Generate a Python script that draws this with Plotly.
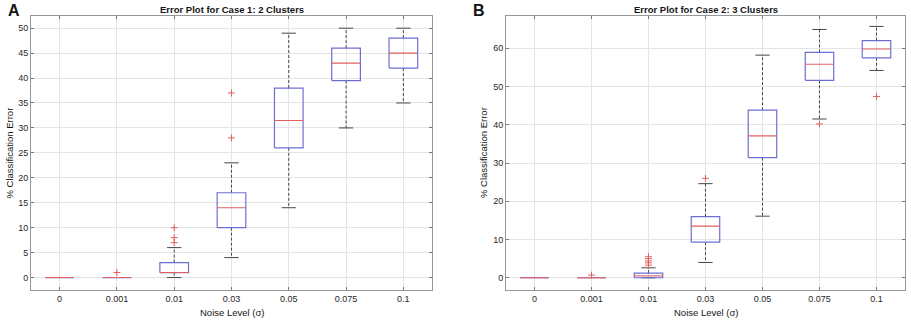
import plotly.graph_objects as go

categories = ["0", "0.001", "0.01", "0.03", "0.05", "0.075", "0.1"]

# Panel A: Case 1, 2 clusters
a_q1 = [0, 0, 1, 10, 26, 39.5, 42]
a_med = [0, 0, 1, 14, 31.5, 43, 45]
a_q3 = [0, 0, 3, 17, 38, 46, 48]
a_lo = [0, 0, 0, 4, 14, 30, 35]
a_hi = [0, 0, 6, 23, 49, 50, 50]
a_out = [[], [1], [7, 8, 10], [28, 37], [], [], []]

# Panel B: Case 2, 3 clusters
b_q1 = [0, 0, 0, 9.3, 31.4, 51.6, 57.5]
b_med = [0, 0, 0.5, 13.5, 37.1, 55.8, 59.8]
b_q3 = [0, 0, 1.2, 16.0, 43.8, 58.9, 62.0]
b_lo = [0, 0, 0, 4.0, 16.1, 41.5, 54.2]
b_hi = [0, 0, 2.6, 24.6, 58.2, 64.9, 65.7]
b_out = [[], [0.7], [3.3, 3.9, 4.4, 5.0, 5.5], [26.0], [], [40.2], [47.4]]

BOX_COLOR = "rgb(110,110,210)"
MED_COLOR = "rgb(225,95,95)"
WHISK_COLOR = "rgb(70,70,70)"
FONT = "Liberation Sans, Arial, sans-serif"

fig = go.Figure()


def add_panel(q1, med, q3, lo, hi, out, xa, ya):
    hw, cw = 0.25, 0.125
    wx, wy, cx, cy, bx, by, mx, my, ox, oy = ([] for _ in range(10))
    for i in range(len(categories)):
        if hi[i] > q3[i]:
            wx += [i, i, None]; wy += [q3[i], hi[i], None]
        if lo[i] < q1[i]:
            wx += [i, i, None]; wy += [q1[i], lo[i], None]
        if hi[i] > q3[i] or lo[i] < q1[i]:
            cx += [i - cw, i + cw, None, i - cw, i + cw, None]
            cy += [hi[i], hi[i], None, lo[i], lo[i], None]
        bx += [i - hw, i + hw, i + hw, i - hw, i - hw, None]
        by += [q1[i], q1[i], q3[i], q3[i], q1[i], None]
        mx += [i - hw, i + hw, None]; my += [med[i], med[i], None]
        for v in out[i]:
            ox.append(i); oy.append(v)
    common = dict(xaxis=xa, yaxis=ya, showlegend=False, hoverinfo="skip")
    fig.add_trace(go.Scatter(x=wx, y=wy, mode="lines",
                             line=dict(color=WHISK_COLOR, width=1, dash="3px,2px"), **common))
    fig.add_trace(go.Scatter(x=cx, y=cy, mode="lines",
                             line=dict(color=WHISK_COLOR, width=1), **common))
    fig.add_trace(go.Scatter(x=bx, y=by, mode="lines",
                             line=dict(color=BOX_COLOR, width=1.2), **common))
    fig.add_trace(go.Scatter(x=mx, y=my, mode="lines",
                             line=dict(color=MED_COLOR, width=1.1), **common))
    fig.add_trace(go.Scatter(x=ox, y=oy, mode="markers",
                             marker=dict(symbol="cross-thin", size=5,
                                         line=dict(color=MED_COLOR, width=1)), **common))


add_panel(a_q1, a_med, a_q3, a_lo, a_hi, a_out, "x", "y")
add_panel(b_q1, b_med, b_q3, b_lo, b_hi, b_out, "x2", "y2")

xax = dict(range=[-0.5, 6.5], tickmode="array", tickvals=list(range(len(categories))),
           ticktext=categories, showgrid=True, gridcolor="rgb(228,228,228)", gridwidth=1,
           zeroline=False, showline=True, linecolor="rgb(150,150,150)", linewidth=1,
           mirror="allticks", ticks="inside", ticklen=3, tickcolor="rgb(120,120,120)",
           tickfont=dict(size=9, color="rgb(40,40,40)", family=FONT))
yax = dict(showgrid=True, gridcolor="rgb(228,228,228)", gridwidth=1, zeroline=False,
           showline=True, linecolor="rgb(150,150,150)", linewidth=1, mirror="allticks",
           ticks="inside", ticklen=3, tickcolor="rgb(120,120,120)",
           tickfont=dict(size=9, color="rgb(40,40,40)", family=FONT))

fig.update_layout(
    width=911, height=324, margin=dict(l=0, r=0, t=0, b=0),
    paper_bgcolor="white", plot_bgcolor="white",
    font=dict(family=FONT, color="rgb(30,30,30)"),
    xaxis=dict(xax, domain=[0.0340, 0.4742], anchor="y"),
    yaxis=dict(yax, domain=[0.1049, 0.9515], anchor="x", range=[-2.5, 52.5],
               tickvals=list(range(0, 51, 5))),
    xaxis2=dict(xax, domain=[0.5554, 0.9934], anchor="y2"),
    yaxis2=dict(yax, domain=[0.1049, 0.9515], anchor="x2", range=[-3.2, 68.5],
                tickvals=list(range(0, 61, 10))),
)

ann = []
def txt(x, y, s, size=9.5, bold=False, angle=0):
    ann.append(dict(x=x, y=y, xref="paper", yref="paper", text=f"<b>{s}</b>" if bold else s,
                    showarrow=False, xanchor="center", yanchor="middle", textangle=angle,
                    font=dict(size=size, family=FONT, color="rgb(20,20,20)")))

txt(231.5 / 911, 1 - 9.3 / 324, "Error Plot for Case 1: 2 Clusters", 9.5, True)
txt(705.5 / 911, 1 - 9.3 / 324, "Error Plot for Case 2: 3 Clusters", 9.5, True)
txt(14 / 911, 1 - 10 / 324, "A", 16, True)
txt(479 / 911, 1 - 10 / 324, "B", 16, True)
txt(231.5 / 911, 1 - 312 / 324, "Noise Level (σ)", 9.5)
txt(705.5 / 911, 1 - 312 / 324, "Noise Level (σ)", 9.5)
txt(8.5 / 911, 1 - 153 / 324, "% Classification Error", 9.5, angle=-90)
txt(483 / 911, 1 - 153 / 324, "% Classification Error", 9.5, angle=-90)
fig.update_layout(annotations=ann)

fig.write_html("out.html", config={"displayModeBar": False},
               post_script="document.body.style.margin='0';document.body.style.overflow='hidden';")
